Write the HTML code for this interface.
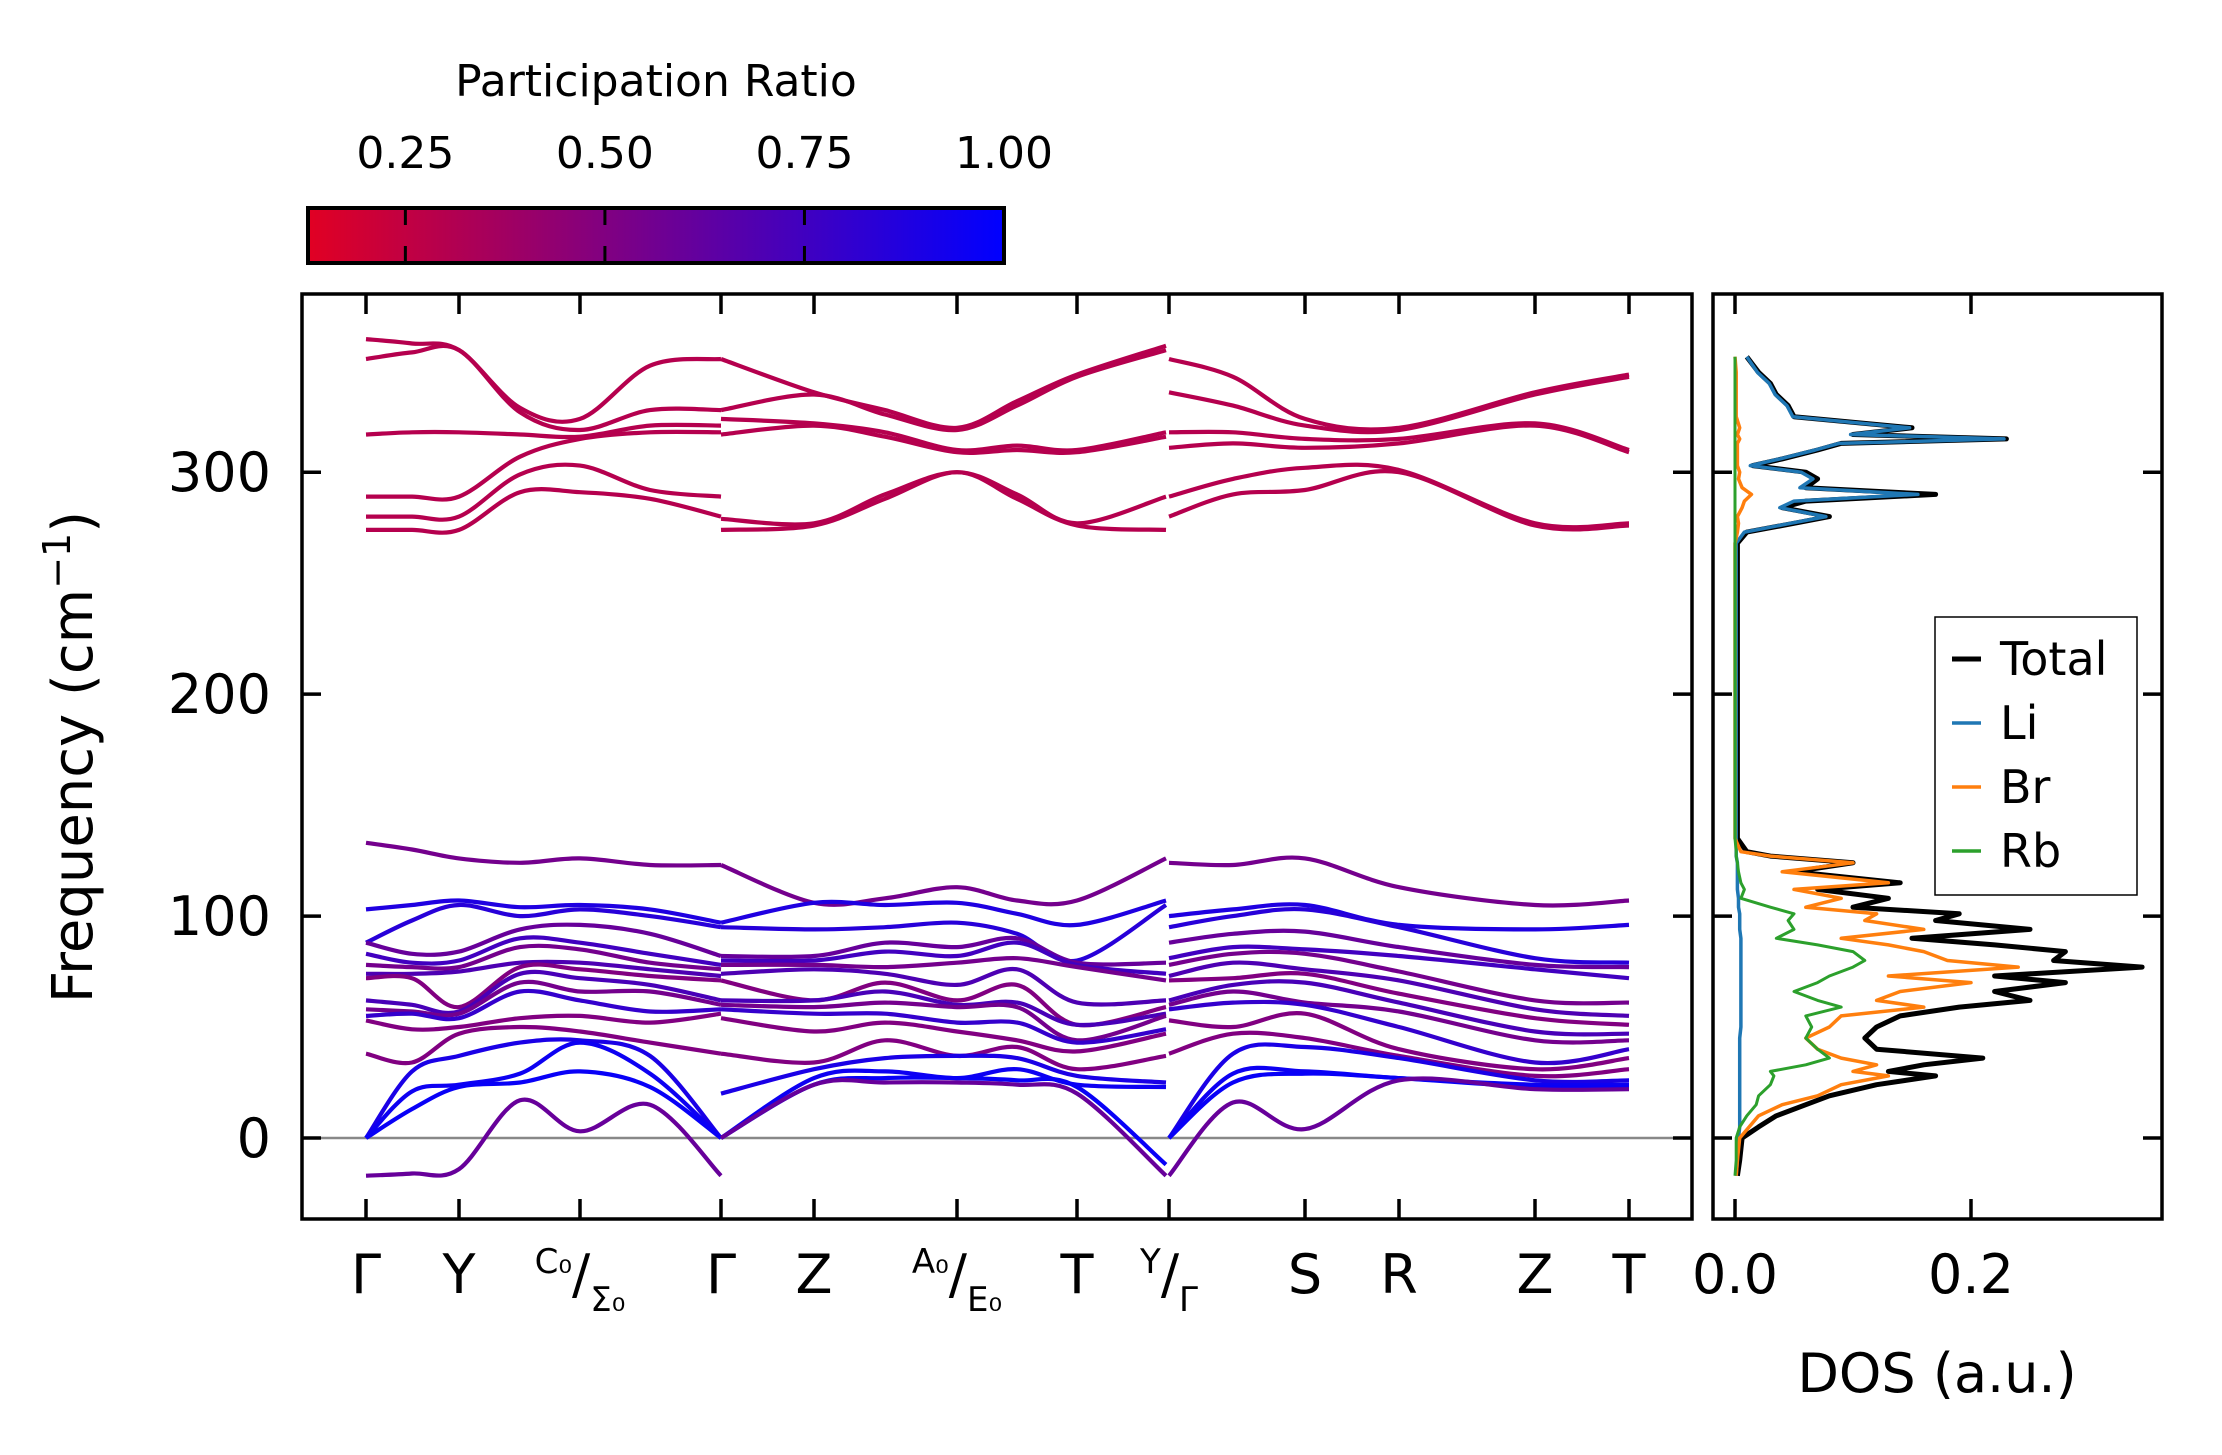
<!DOCTYPE html>
<html><head><meta charset="utf-8"><title>Phonon bands and DOS</title>
<style>
html,body{margin:0;padding:0;background:#fff;}
svg{display:block;font-family:"DejaVu Sans","Liberation Sans",sans-serif;}
</style></head>
<body>
<svg id="fig" width="2222" height="1455" viewBox="0 0 2222 1455" xmlns="http://www.w3.org/2000/svg">
<defs>
<linearGradient id="cmap" x1="0" x2="1" y1="0" y2="0">
<stop offset="0" stop-color="rgb(225,0,35)"/>
<stop offset="1" stop-color="rgb(0,0,255)"/>
</linearGradient>
<clipPath id="mainclip"><rect x="302" y="294" width="1390" height="925"/></clipPath>
<clipPath id="dosclip"><rect x="1713" y="294" width="449" height="925"/></clipPath>
</defs>
<g id="colorbar">
<text x="656" y="96" font-size="44" text-anchor="middle">Participation Ratio</text>
<rect x="308" y="208" width="696" height="55" fill="url(#cmap)" stroke="#000" stroke-width="4"/>
</g>
<g id="main"></g>
<g id="dos"></g>
<text transform="translate(92,757) rotate(-90)" font-size="56" text-anchor="middle">Frequency (cm<tspan dy="-22" font-size="38">−1</tspan><tspan dy="22">)</tspan></text>
<text x="1937" y="1392" font-size="54" text-anchor="middle">DOS (a.u.)</text>
</svg>
<script>
// ---------- data ----------
const cbTicks = [0.25, 0.50, 0.75, 1.00];
const cbTickLabels = ["0.25", "0.50", "0.75", "1.00"];
const yTicks = [0, 100, 200, 300];
const kLabels = ["Γ","Y","C₀/Σ₀","Γ","Z","A₀/E₀","T","Y/Γ","S","R","Z","T"];
const kDist = [0, 93, 214, 355, 448, 591, 711, 803, 939, 1033, 1169, 1263];

// piece 1: Γ-Y-C0/Σ0-Γ
const p1Dist = [0, 46, 93, 154, 214, 284, 355];
const p1Low = [
 [133,130,126,124,126,123,123],
 [103,105,107,104,105,103,97],
 [88,98,105,100,103,100,95],
 [88,83,84,94,96,92,82],
 [83,79,80,90,88,83,78],
 [78,77,77,86,85,79,76],
 [74,74,75,79,79,76,73],
 [72,72,59,77,76,73,71],
 [62,60,57,74,72,69,62],
 [58,57,56,70,66,66,60],
 [55,56,54,66,62,57,58],
 [53,49,50,54,55,52,56],
 [38,34,47,50,48,43,38],
 [0,30,37,43,44,37,0],
 [0,21,24,29,43,29,0],
 [0,13,23,25,30,23,0],
 [-17,-16,-14,17,3,15,-17]
];
const p1High = [
 [360,358,355,329,324,348,351],
 [351,354,355,327,319,328,328],
 [317,318,318,317,316,321,321],
 [289,289,289,307,315,318,318],
 [280,280,280,299,303,292,289],
 [274,274,274,291,291,288,280]
];
// piece 2: Γ-Z-A0/E0-T-Y
const p2Dist = [355, 448, 519, 591, 651, 711, 800];
const p2Low = [
 [123,106,108,113,107,107,126],
 [97,106,105,106,101,96,107],
 [95,94,95,97,92,80,105],
 [82,82,88,86,90,79,79],
 [80,80,84,82,88,78,74],
 [78,78,77,79,81,77,71],
 [74,76,74,69,76,61,62],
 [71,62,70,62,69,51,59],
 [62,62,66,60,61,51,56],
 [60,59,61,59,59,44,55],
 [58,56,56,52,52,43,49],
 [54,48,52,48,44,39,47],
 [38,34,44,37,41,31,37],
 [20,31,36,37,36,28,25],
 [0,27,30,27,31,24,23],
 [0,24,27,27,26,23,-12],
 [0,24,25,25,24,20,-17]
];
const p2High = [
 [351,336,328,320,332,344,357],
 [328,335,326,319,330,343,355],
 [324,322,318,310,312,310,318],
 [317,321,316,309,310,309,316],
 [279,277,290,300,290,277,289],
 [274,276,288,300,288,276,274]
];
// piece 3: Γ-S-R-Z-T
const p3Dist = [803, 867, 939, 1033, 1169, 1263];
const p3Low = [
 [124,123,126,113,105,107],
 [100,103,105,96,94,96],
 [95,100,103,95,81,79],
 [88,92,93,86,78,77],
 [81,86,85,82,76,72],
 [78,83,83,75,62,61],
 [73,79,76,71,58,55],
 [71,72,74,65,54,51],
 [62,69,70,61,48,47],
 [60,66,61,57,44,44],
 [58,61,60,50,34,40],
 [53,50,56,40,31,36],
 [38,47,45,37,28,31],
 [0,38,41,36,26,26],
 [0,29,30,27,24,24],
 [0,25,29,27,23,23],
 [-17,16,4,26,22,22]
];
const p3High = [
 [351,343,324,320,336,344],
 [336,330,321,319,335,343],
 [318,318,315,315,322,310],
 [311,313,311,313,321,309],
 [289,297,302,301,277,277],
 [280,290,292,300,276,276]
];
const prLow = [0.55,0.88,0.85,0.6,0.75,0.55,0.7,0.5,0.72,0.55,0.8,0.5,0.5,0.9,0.95,0.97,0.6];
const prHigh = [0.3,0.3,0.3,0.3,0.3,0.3];

// DOS
const dosFreq = [-17,-10,0,5,10,15,19,24,28,30,33,36,40,45,50,55,59,62,66,70,73,77,80,84,87,90,94,98,101,104,108,112,115,120,124,127,129,135,200,268,273,277,280,284,287,290,293,297,300,303,306,310,313,315,317,320,325,330,335,340,345,352];
const dosTotal = [0.002,0.004,0.006,0.02,0.035,0.06,0.08,0.12,0.17,0.13,0.16,0.21,0.12,0.11,0.12,0.14,0.19,0.25,0.22,0.28,0.22,0.345,0.27,0.28,0.22,0.15,0.25,0.17,0.19,0.10,0.13,0.07,0.14,0.05,0.10,0.03,0.01,0.002,0.002,0.002,0.01,0.05,0.08,0.04,0.06,0.17,0.06,0.07,0.06,0.015,0.04,0.07,0.09,0.23,0.10,0.15,0.05,0.045,0.035,0.03,0.02,0.01];
const dosLi = [0.001,0.002,0.003,0.004,0.004,0.004,0.004,0.004,0.004,0.004,0.004,0.004,0.004,0.004,0.005,0.005,0.005,0.005,0.005,0.005,0.005,0.005,0.005,0.005,0.005,0.005,0.004,0.004,0.004,0.003,0.003,0.002,0.002,0.002,0.002,0.001,0.001,0.001,0.001,0.001,0.008,0.047,0.077,0.038,0.05,0.155,0.055,0.066,0.056,0.013,0.038,0.068,0.088,0.228,0.098,0.148,0.049,0.044,0.034,0.029,0.019,0.01];
const dosBr = [0.001,0.002,0.004,0.012,0.02,0.04,0.07,0.09,0.13,0.10,0.12,0.09,0.07,0.06,0.08,0.09,0.16,0.12,0.14,0.20,0.13,0.24,0.18,0.16,0.13,0.09,0.16,0.11,0.12,0.06,0.09,0.05,0.13,0.04,0.10,0.03,0.005,0,0,0,0.002,0.003,0.002,0.006,0.008,0.014,0.006,0.003,0.004,0.002,0.002,0.002,0.002,0.004,0.002,0.004,0.001,0.001,0.001,0.001,0.001,0];
const dosRb = [0,0.001,0.001,0.004,0.01,0.018,0.02,0.03,0.033,0.03,0.06,0.08,0.07,0.06,0.065,0.06,0.09,0.07,0.05,0.07,0.08,0.10,0.11,0.10,0.07,0.035,0.05,0.045,0.05,0.03,0.005,0.008,0.005,0.003,0.002,0.001,0.001,0,0,0,0,0,0,0,0,0,0,0,0,0,0,0,0,0,0,0,0,0,0,0,0,0];

// ---------- scales ----------
const NS = "http://www.w3.org/2000/svg";
const fig = document.getElementById('fig');
const mainG = document.getElementById('main');
const dosG = document.getElementById('dos');
const PL = 302, PR = 1692, PT = 294, PB = 1219;
const DL = 1713, DR = 2162;
const fMin = -36.5, fMax = 380.3;
const yS = f => PB - (f - fMin) / (fMax - fMin) * (PB - PT);
const xS = d => 366 + d / 1263 * (1629 - 366);
const dS = v => 1735 + v / 0.2 * 236;
const cbS = v => 308 + (v - 0.128) / (1 - 0.128) * 696;
function prColor(p){
  const t = Math.max(0, Math.min(1, (p - 0.128) / (1 - 0.128)));
  return `rgb(${Math.round(225*(1-t))},0,${Math.round(35+220*t)})`;
}
function mk(tag, attrs, parent){
  const e = document.createElementNS(NS, tag);
  for (const k in attrs) e.setAttribute(k, attrs[k]);
  (parent || fig).appendChild(e);
  return e;
}
function smoothPath(pts){
  let d = `M${pts[0][0].toFixed(1)},${pts[0][1].toFixed(1)}`;
  for (let i = 0; i < pts.length - 1; i++){
    const p0 = pts[Math.max(0,i-1)], p1 = pts[i], p2 = pts[i+1], p3 = pts[Math.min(pts.length-1,i+2)];
    const c1x = p1[0] + (p2[0]-p0[0])/6, c1y = p1[1] + (p2[1]-p0[1])/6;
    const c2x = p2[0] - (p3[0]-p1[0])/6, c2y = p2[1] - (p3[1]-p1[1])/6;
    d += ` C${c1x.toFixed(1)},${c1y.toFixed(1)} ${c2x.toFixed(1)},${c2y.toFixed(1)} ${p2[0].toFixed(1)},${p2[1].toFixed(1)}`;
  }
  return d;
}

// ---------- colorbar ticks ----------
cbTicks.forEach((v,i) => {
  const x = cbS(v);
  if (v < 1) {
    const tl = mk('line', {x1:x, x2:x, y1:210, y2:225, stroke:'#000', 'stroke-width':3});
    
    
    const tl2 = mk('line', {x1:x, x2:x, y1:246, y2:261, stroke:'#000', 'stroke-width':3});
    
    
  }
  const t = mk('text', {x:x, y:168, 'font-size':44, 'text-anchor':'middle'});
  t.textContent = cbTickLabels[i];
  
  
});

// ---------- main panel ----------
const zl = mk('line', {x1:PL, x2:PR, y1:yS(0), y2:yS(0), stroke:'#888', 'stroke-width':2.5}, mainG);


const bandsG = mk('g', {'clip-path':'url(#mainclip)', fill:'none', 'stroke-width':4.2, 'stroke-linecap':'butt'}, mainG);


function drawPiece(dist, bands, prs, nm){
  bands.forEach((b, i) => {
    const pts = b.map((f, j) => [xS(dist[j]), yS(f)]);
    const p = mk('path', {d: smoothPath(pts), stroke: prColor(prs[i])}, bandsG);
    
    
  });
}
drawPiece(p1Dist, p1High, prHigh, 'gamma-y-sigma-gamma-high');
drawPiece(p1Dist, p1Low, prLow, 'gamma-y-sigma-gamma-low');
drawPiece(p2Dist, p2High, prHigh, 'gamma-z-e-t-y-high');
drawPiece(p2Dist, p2Low, prLow, 'gamma-z-e-t-y-low');
drawPiece(p3Dist, p3High, prHigh, 'gamma-s-r-z-t-high');
drawPiece(p3Dist, p3Low, prLow, 'gamma-s-r-z-t-low');

const frame = mk('rect', {x:PL, y:PT, width:PR-PL, height:PB-PT, fill:'none', stroke:'#000', 'stroke-width':3.5}, mainG);



yTicks.forEach(v => {
  const y = yS(v);
  const a = mk('line', {x1:PL, x2:PL+19, y1:y, y2:y, stroke:'#000', 'stroke-width':3.5}, mainG);
  
  
  const b = mk('line', {x1:PR-19, x2:PR, y1:y, y2:y, stroke:'#000', 'stroke-width':3.5}, mainG);
  
  
  const c = mk('line', {x1:DL, x2:DL+19, y1:y, y2:y, stroke:'#000', 'stroke-width':3.5}, dosG);
  
  
  const d = mk('line', {x1:DR-19, x2:DR, y1:y, y2:y, stroke:'#000', 'stroke-width':3.5}, dosG);
  
  
  const t = mk('text', {x:271, y:y+19, 'font-size':54, 'text-anchor':'end'}, mainG);
  t.textContent = String(v);
  
  
});

kDist.forEach((d, i) => {
  const x = xS(d);
  const a = mk('line', {x1:x, x2:x, y1:PT, y2:PT+20, stroke:'#000', 'stroke-width':3.5}, mainG);
  
  
  const b = mk('line', {x1:x, x2:x, y1:PB-20, y2:PB, stroke:'#000', 'stroke-width':3.5}, mainG);
  
  
  const lab = kLabels[i];
  let t;
  if (lab.indexOf('/') >= 0) {
    const parts = lab.split('/');
    t = mk('text', {x:x, y:1293, 'font-size':54, 'text-anchor':'middle'}, mainG);
    const s1 = mk('tspan', {'font-size':34, dy:-20}, t);
    s1.textContent = parts[0];
    const s2 = mk('tspan', {'font-size':54, dy:20}, t);
    s2.textContent = '/';
    const s3 = mk('tspan', {'font-size':34, dy:18}, t);
    s3.textContent = parts[1];
  } else {
    t = mk('text', {x:x, y:1293, 'font-size':54, 'text-anchor':'middle'}, mainG);
    t.textContent = lab;
  }
  
  
});

// ---------- DOS panel ----------
const dosLines = mk('g', {'clip-path':'url(#dosclip)', fill:'none', 'stroke-linejoin':'round'}, dosG);


function dosPath(vals, color, w, nm){
  const pts = vals.map((v, i) => `${dS(v).toFixed(1)},${yS(dosFreq[i]).toFixed(1)}`);
  const p = mk('polyline', {points: pts.join(' '), stroke: color, 'stroke-width': w}, dosLines);
  
  
}
dosPath(dosTotal, '#000', 5, 'dos-total-line');
dosPath(dosLi, '#1f77b4', 3.5, 'dos-li-line');
dosPath(dosBr, '#ff7f0e', 3.5, 'dos-br-line');
dosPath(dosRb, '#2ca02c', 3, 'dos-rb-line');

const dframe = mk('rect', {x:DL, y:PT, width:DR-DL, height:PB-PT, fill:'none', stroke:'#000', 'stroke-width':3.5}, dosG);


const dTicks = [0.0, 0.2];
const dTickLabels = ["0.0", "0.2"];
dTicks.forEach((v, i) => {
  const x = dS(v);
  const a = mk('line', {x1:x, x2:x, y1:PT, y2:PT+20, stroke:'#000', 'stroke-width':3.5}, dosG);
  
  
  const b = mk('line', {x1:x, x2:x, y1:PB-20, y2:PB, stroke:'#000', 'stroke-width':3.5}, dosG);
  
  
  const t = mk('text', {x:x, y:1293, 'font-size':54, 'text-anchor':'middle'}, dosG);
  t.textContent = dTickLabels[i];
  
  
});

// legend
const legNames = ["Total", "Li", "Br", "Rb"];
const legColors = ["#000", "#1f77b4", "#ff7f0e", "#2ca02c"];
const leg = mk('g', {}, dosG);


const lb = mk('rect', {x:1935, y:617, width:202, height:278, fill:'#fff', stroke:'#000', 'stroke-width':1.5}, leg);


legNames.forEach((n, i) => {
  const y = 659 + i * 64;
  const ln = mk('line', {x1:1952, x2:1981, y1:y, y2:y, stroke:legColors[i], 'stroke-width': i === 0 ? 5 : 3.5}, leg);
  
  
  const t = mk('text', {x:2000, y:y+16, 'font-size':46}, leg);
  t.textContent = n;
  
  
});
</script>
</body></html>
